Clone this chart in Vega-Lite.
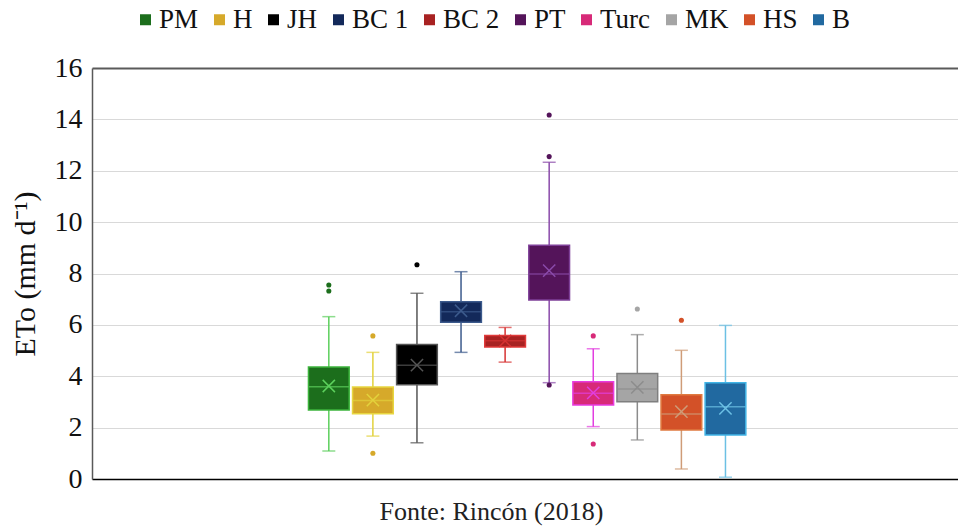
{
  "$schema": "https://vega.github.io/schema/vega-lite/v6.json",
  "width": 866,
  "height": 411,
  "autosize": {"type": "none"},
  "padding": {"left": 92, "top": 68, "right": 0, "bottom": 47},
  "background": "white",
  "config": {
    "font": "Liberation Serif",
    "view": {"stroke": null}
  },
  "datasets": {
    "stats": [
      {"m": "PM", "lo": 1.09, "q1": 2.69, "med": 3.59, "q3": 4.36, "hi": 6.32, "mean": 3.62},
      {"m": "H", "lo": 1.67, "q1": 2.54, "med": 3.06, "q3": 3.58, "hi": 4.93, "mean": 3.07},
      {"m": "JH", "lo": 1.41, "q1": 3.67, "med": 4.43, "q3": 5.24, "hi": 7.23, "mean": 4.43},
      {"m": "BC 1", "lo": 4.93, "q1": 6.10, "med": 6.51, "q3": 6.90, "hi": 8.07, "mean": 6.55},
      {"m": "BC 2", "lo": 4.55, "q1": 5.14, "med": 5.38, "q3": 5.59, "hi": 5.90, "mean": 5.38},
      {"m": "PT", "lo": 3.75, "q1": 6.97, "med": 7.98, "q3": 9.10, "hi": 12.33, "mean": 8.11},
      {"m": "Turc", "lo": 2.04, "q1": 2.88, "med": 3.34, "q3": 3.79, "hi": 5.07, "mean": 3.35},
      {"m": "MK", "lo": 1.52, "q1": 3.01, "med": 3.50, "q3": 4.11, "hi": 5.62, "mean": 3.57},
      {"m": "HS", "lo": 0.39, "q1": 1.91, "med": 2.53, "q3": 3.28, "hi": 5.01, "mean": 2.62},
      {"m": "B", "lo": 0.07, "q1": 1.71, "med": 2.81, "q3": 3.75, "hi": 5.98, "mean": 2.75}
    ],
    "outliers": [
      {"m": "PM", "v": 7.55},
      {"m": "PM", "v": 7.32},
      {"m": "H", "v": 5.57},
      {"m": "H", "v": 1.00},
      {"m": "JH", "v": 8.34},
      {"m": "PT", "v": 14.17},
      {"m": "PT", "v": 12.55},
      {"m": "PT", "v": 3.66},
      {"m": "Turc", "v": 5.57},
      {"m": "Turc", "v": 1.36},
      {"m": "MK", "v": 6.62},
      {"m": "HS", "v": 6.18}
    ]
  },
  "encoding": {
    "x": {
      "datum": "ETo",
      "type": "nominal",
      "scale": {"paddingInner": 0, "paddingOuter": 0.49, "align": 0.505},
      "axis": {
        "labels": false,
        "ticks": false,
        "grid": false,
        "domain": true,
        "domainColor": "#000000",
        "domainWidth": 1.5,
        "title": "Fonte: Rincón (2018)",
        "titleFont": "Liberation Serif",
        "titleFontSize": 26,
        "titleFontWeight": "normal",
        "titleColor": "#222222",
        "titleX": 399,
        "titleY": 19,
        "titleAlign": "center",
        "titleBaseline": "top"
      }
    },
    "xOffset": {
      "field": "m",
      "type": "nominal",
      "sort": ["PM", "H", "JH", "BC 1", "BC 2", "PT", "Turc", "MK", "HS", "B"],
      "scale": {
        "domain": ["PM", "H", "JH", "BC 1", "BC 2", "PT", "Turc", "MK", "HS", "B"],
        "paddingInner": 0.076,
        "paddingOuter": 0
      }
    }
  },
  "layer": [
    {
      "data": {"name": "stats"},
      "mark": {"type": "rule", "strokeWidth": 1.5},
      "encoding": {
        "y": {
          "field": "lo",
          "type": "quantitative",
          "scale": {"domain": [0, 16], "nice": false, "zero": true},
          "axis": {
            "values": [0, 2, 4, 6, 8, 10, 12, 14, 16],
            "ticks": false,
            "domainColor": "#595959",
            "domainWidth": 1.5,
            "grid": true,
            "gridColor": {"condition": {"test": "datum.value === 16", "value": "#5a5a5a"}, "value": "#d9d9d9"},
            "gridWidth": {"condition": {"test": "datum.value === 16", "value": 2}, "value": 1.2},
            "labelFont": "Liberation Serif",
            "labelFontSize": 28,
            "labelColor": "#111111",
            "labelPadding": 10,
            "title": "ETo (mm d⁻¹)",
            "titleFont": "Liberation Serif",
            "titleFontSize": 30,
            "titleFontWeight": "normal",
            "titleColor": "#111111",
            "titlePadding": 14
          }
        },
        "y2": {"field": "hi"},
        "color": {
          "field": "m",
          "type": "nominal",
          "scale": {
            "domain": ["B", "HS", "MK", "Turc", "PT", "BC 2", "BC 1", "JH", "H", "PM"],
            "range": ["#6cc0e4", "#cf9c78", "#8c8c8c", "#e23ee0", "#8a4aaa", "#d63232", "#3c5a8c", "#555555", "#e3d23c", "#5ccf5c"]
          },
          "legend": null
        }
      }
    },
    {
      "data": {"name": "stats"},
      "mark": {"type": "tick", "size": 13, "thickness": 1.5},
      "encoding": {
        "y": {"field": "lo", "type": "quantitative"},
        "color": {"field": "m", "type": "nominal", "legend": null}
      }
    },
    {
      "data": {"name": "stats"},
      "mark": {"type": "tick", "size": 13, "thickness": 1.5},
      "encoding": {
        "y": {"field": "hi", "type": "quantitative"},
        "color": {"field": "m", "type": "nominal", "legend": null}
      }
    },
    {
      "data": {"name": "stats"},
      "mark": {"type": "bar", "strokeWidth": 1.5},
      "encoding": {
        "y": {"field": "q1", "type": "quantitative"},
        "y2": {"field": "q3"},
        "fill": {
          "field": "m",
          "type": "nominal",
          "scale": {
            "domain": ["PM", "H", "JH", "BC 1", "BC 2", "PT", "Turc", "MK", "HS", "B"],
            "range": ["#1c6e1c", "#d6a92a", "#000000", "#13295a", "#a82222", "#54145a", "#d72a78", "#a5a5a5", "#d35128", "#2169a0"]
          },
          "legend": {
            "orient": "none",
            "legendX": 40,
            "legendY": -62,
            "direction": "horizontal",
            "title": null,
            "symbolType": "square",
            "symbolSize": 121,
            "symbolStrokeWidth": 0,
            "labelFont": "Liberation Serif",
            "labelFontSize": 27,
            "labelColor": "#111111",
            "labelOffset": 0,
            "columnPadding": 7
          }
        },
        "stroke": {
          "field": "m",
          "type": "nominal",
          "scale": {
            "domain": ["H", "PM", "BC 1", "JH", "PT", "BC 2", "MK", "Turc", "B", "HS"],
            "range": ["#e8d640", "#3cb43c", "#3c5a8c", "#555555", "#7e3f98", "#e03a3a", "#7f7f7f", "#e83ce0", "#40b4e6", "#e07a40"]
          },
          "legend": null
        }
      }
    },
    {
      "data": {"name": "stats"},
      "mark": {"type": "tick", "size": 40, "thickness": 1.5},
      "encoding": {
        "y": {"field": "med", "type": "quantitative"},
        "color": {"field": "m", "type": "nominal", "legend": null}
      }
    },
    {
      "data": {"name": "stats"},
      "mark": {"type": "point", "shape": "M-1,-1L1,1M-1,1L1,-1", "size": 150, "filled": false, "strokeWidth": 1.5, "opacity": 1},
      "encoding": {
        "y": {"field": "mean", "type": "quantitative"},
        "color": {"field": "m", "type": "nominal", "legend": null}
      }
    },
    {
      "data": {"name": "outliers"},
      "mark": {"type": "point", "shape": "circle", "filled": true, "size": 26, "opacity": 1, "strokeWidth": 0},
      "encoding": {
        "y": {"field": "v", "type": "quantitative"},
        "fill": {"field": "m", "type": "nominal"}
      }
    }
  ]
}
